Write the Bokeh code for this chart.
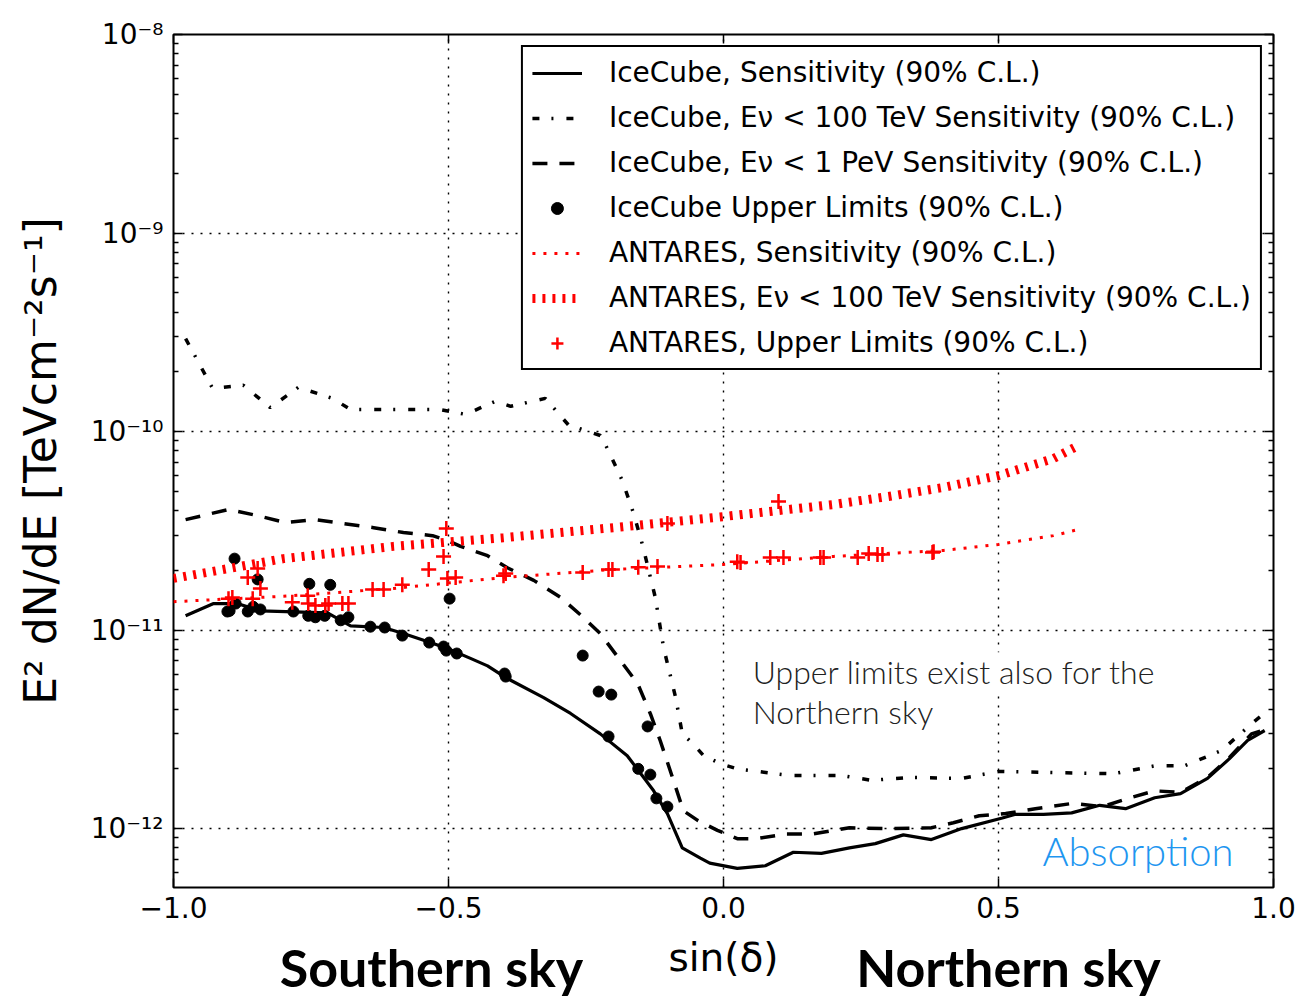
from bokeh.plotting import figure
from bokeh.layouts import column
from bokeh.models import FixedTicker, LinearAxis, LogAxis, Label, Legend, LegendItem, Range1d
from bokeh.embed import file_html
from bokeh.resources import INLINE

# ---------------- data ----------------
ic_sens_x = [-0.978, -0.927, -0.884, -0.842, -0.720, -0.678, -0.618, -0.582, -0.533, -0.502,
             -0.460, -0.429, -0.393, -0.327, -0.278, -0.224, -0.175, -0.127, -0.102, -0.075,
             -0.042, -0.025, 0.025, 0.076, 0.127, 0.178, 0.229, 0.276, 0.327, 0.378,
             0.433, 0.507, 0.531, 0.582, 0.633, 0.684, 0.731, 0.784, 0.831, 0.880,
             0.920, 0.953, 0.984]
ic_sens_y = [1.18e-11, 1.36e-11, 1.36e-11, 1.25e-11, 1.22e-11, 1.05e-11, 1.03e-11, 9.6e-12, 8.65e-12, 8.07e-12,
             7.2e-12, 6.6e-12, 5.7e-12, 4.57e-12, 3.8e-12, 3.0e-12, 2.33e-12, 1.55e-12, 1.19e-12, 8.0e-13,
             7.1e-13, 6.7e-13, 6.3e-13, 6.5e-13, 7.6e-13, 7.5e-13, 8.0e-13, 8.4e-13, 9.3e-13, 8.8e-13,
             1.0e-12, 1.13e-12, 1.18e-12, 1.18e-12, 1.2e-12, 1.31e-12, 1.26e-12, 1.43e-12, 1.5e-12, 1.79e-12,
             2.25e-12, 2.78e-12, 3.12e-12]

ic_100tev_x = [-0.978, -0.929, -0.873, -0.824, -0.773, -0.711, -0.678, -0.515, -0.469, -0.415,
               -0.387, -0.324, -0.282, -0.224, -0.211, -0.184, -0.164, -0.147, -0.124, -0.109,
               -0.087, -0.075, -0.056, -0.036, -0.005, 0.025, 0.120, 0.216, 0.269, 0.338,
               0.433, 0.500, 0.709, 0.784, 0.838, 0.905, 0.967, 0.985]
ic_100tev_y = [2.94e-10, 1.65e-10, 1.71e-10, 1.32e-10, 1.67e-10, 1.47e-10, 1.29e-10, 1.29e-10, 1.22e-10, 1.42e-10,
               1.34e-10, 1.47e-10, 1.08e-10, 9.55e-11, 8.2e-11, 5.66e-11, 3.91e-11, 2.67e-11, 1.46e-11, 8.17e-12,
               4.57e-12, 3.01e-12, 2.68e-12, 2.33e-12, 2.12e-12, 2.0e-12, 1.85e-12, 1.85e-12, 1.75e-12, 1.81e-12,
               1.79e-12, 1.94e-12, 1.89e-12, 2.07e-12, 2.07e-12, 2.47e-12, 3.5e-12, 3.84e-12]

ic_1pev_x = [-0.978, -0.900, -0.847, -0.796, -0.742, -0.691, -0.636, -0.582, -0.529, -0.502,
             -0.478, -0.429, -0.393, -0.345, -0.296, -0.255, -0.224, -0.187, -0.156, -0.133,
             -0.115, -0.091, -0.073, -0.047, -0.011, 0.025, 0.060, 0.115, 0.162, 0.229,
             0.296, 0.378, 0.418, 0.465, 0.513, 0.567, 0.635, 0.689, 0.736, 0.784,
             0.831, 0.880, 0.920, 0.960, 0.980]
ic_1pev_y = [3.6e-11, 4.05e-11, 3.77e-11, 3.48e-11, 3.6e-11, 3.44e-11, 3.28e-11, 3.1e-11, 2.99e-11, 2.83e-11,
             2.64e-11, 2.37e-11, 2.06e-11, 1.78e-11, 1.46e-11, 1.16e-11, 9.6e-12, 7.0e-12, 5.37e-12, 3.79e-12,
             2.77e-12, 1.75e-12, 1.23e-12, 1.1e-12, 9.8e-13, 8.9e-13, 8.9e-13, 9.4e-13, 9.4e-13, 1.01e-12,
             1.0e-12, 1.01e-12, 1.07e-12, 1.16e-12, 1.19e-12, 1.26e-12, 1.34e-12, 1.29e-12, 1.42e-12, 1.55e-12,
             1.52e-12, 1.81e-12, 2.28e-12, 3.0e-12, 3.12e-12]

ic_ul_x = [-0.902, -0.898, -0.889, -0.887, -0.865, -0.855, -0.847, -0.842, -0.782, -0.755,
           -0.753, -0.742, -0.725, -0.715, -0.696, -0.682, -0.642, -0.616, -0.584, -0.535,
           -0.509, -0.504, -0.498, -0.485, -0.398, -0.396, -0.256, -0.227, -0.209, -0.204,
           -0.155, -0.138, -0.133, -0.122, -0.102]
ic_ul_y = [1.24e-11, 1.25e-11, 2.29e-11, 1.36e-11, 1.24e-11, 1.31e-11, 1.80e-11, 1.27e-11, 1.24e-11, 1.18e-11,
           1.71e-11, 1.16e-11, 1.18e-11, 1.69e-11, 1.12e-11, 1.16e-11, 1.04e-11, 1.03e-11, 9.38e-12, 8.65e-12,
           8.26e-12, 7.88e-12, 1.44e-11, 7.62e-12, 6.04e-12, 5.83e-12, 7.44e-12, 4.90e-12, 2.91e-12, 4.73e-12,
           2.0e-12, 3.27e-12, 1.87e-12, 1.42e-12, 1.29e-12]

ant_sens_x = [-1.0, -0.8, -0.6, -0.4, -0.2, 0.0, 0.2, 0.4, 0.5, 0.6, 0.645]
ant_sens_y = [1.39e-11, 1.48e-11, 1.62e-11, 1.84e-11, 2.02e-11, 2.14e-11, 2.35e-11, 2.52e-11, 2.70e-11, 2.99e-11, 3.21e-11]

ant_100tev_x = [-1.0, -0.8, -0.6, -0.4, -0.2, 0.0, 0.2, 0.3, 0.4, 0.5, 0.6, 0.645]
ant_100tev_y = [1.82e-11, 2.29e-11, 2.64e-11, 2.92e-11, 3.28e-11, 3.73e-11, 4.29e-11, 4.71e-11, 5.23e-11, 6.0e-11, 7.31e-11, 8.5e-11]

ant_ul_x = [-0.900, -0.893, -0.865, -0.856, -0.847, -0.842, -0.784, -0.756, -0.755, -0.742,
            -0.724, -0.718, -0.693, -0.682, -0.638, -0.618, -0.584, -0.536, -0.509, -0.504,
            -0.502, -0.487, -0.400, -0.396, -0.256, -0.209, -0.202, -0.155, -0.120, -0.102,
            0.025, 0.031, 0.100, 0.085, 0.109, 0.176, 0.182, 0.244, 0.264, 0.280,
            0.289, 0.380, 0.382]
ant_ul_y = [1.44e-11, 1.46e-11, 1.84e-11, 1.44e-11, 2.04e-11, 1.62e-11, 1.38e-11, 1.49e-11, 1.36e-11, 1.33e-11,
            1.33e-11, 1.36e-11, 1.36e-11, 1.36e-11, 1.60e-11, 1.60e-11, 1.69e-11, 2.02e-11, 2.35e-11, 3.25e-11,
            1.82e-11, 1.84e-11, 1.88e-11, 1.93e-11, 1.95e-11, 2.02e-11, 2.02e-11, 2.07e-11, 2.09e-11, 3.44e-11,
            2.21e-11, 2.19e-11, 4.44e-11, 2.32e-11, 2.32e-11, 2.32e-11, 2.32e-11, 2.32e-11, 2.43e-11, 2.40e-11,
            2.40e-11, 2.46e-11, 2.48e-11]

legend_labels = [
    "IceCube, Sensitivity (90% C.L.)",
    "IceCube, Eν < 100 TeV Sensitivity (90% C.L.)",
    "IceCube, Eν < 1 PeV Sensitivity (90% C.L.)",
    "IceCube Upper Limits (90% C.L.)",
    "ANTARES, Sensitivity (90% C.L.)",
    "ANTARES, Eν < 100 TeV Sensitivity (90% C.L.)",
    "ANTARES, Upper Limits (90% C.L.)",
]

x_ticks = [-1.0, -0.5, 0.0, 0.5, 1.0]
x_tick_labels = ["−1.0", "−0.5", "0.0", "0.5", "1.0"]
y_ticks = [1e-12, 1e-11, 1e-10, 1e-9, 1e-8]
y_tick_labels = ["10⁻¹²", "10⁻¹¹", "10⁻¹⁰", "10⁻⁹", "10⁻⁸"]
y_minor_ticks = [m * 10.0 ** e for e in range(-13, -8) for m in range(2, 10)]

FONT = "DejaVu Sans"
LIGHT = "'Lato Light', Lato"

# ---------------- main figure ----------------
p = figure(width=1304, height=932, x_range=Range1d(-1.0, 1.0), y_range=Range1d(5.05e-13, 1e-8),
           y_axis_type="log", output_backend="svg", toolbar_location=None,
           min_border_left=173, min_border_right=31, min_border_top=34, min_border_bottom=45)
p.background_fill_color = "white"
p.border_fill_color = "white"
p.outline_line_color = "black"
p.outline_line_width = 2


def style_axis(ax):
    ax.axis_line_color = None
    ax.major_tick_in = 9
    ax.major_tick_out = 0
    ax.minor_tick_in = 5
    ax.minor_tick_out = 0
    ax.major_tick_line_width = 1.5
    ax.minor_tick_line_width = 1.5
    ax.major_tick_line_color = "black"
    ax.minor_tick_line_color = "black"
    ax.major_label_text_font = FONT
    ax.major_label_text_font_size = "28px"
    ax.major_label_text_color = "black"
    ax.axis_label_text_font = FONT
    ax.axis_label_text_font_style = "normal"
    ax.axis_label_text_color = "black"


xax = p.xaxis[0]
xax.ticker = FixedTicker(ticks=x_ticks)
xax.major_label_overrides = dict(zip(x_ticks, x_tick_labels))
style_axis(xax)
xax.minor_tick_line_color = None
xax.major_label_standoff = 9

yax = p.yaxis[0]
yax.ticker = FixedTicker(ticks=y_ticks, minor_ticks=y_minor_ticks)
yax.major_label_overrides = dict(zip(y_ticks, y_tick_labels))
style_axis(yax)
yax.major_label_standoff = 10
yax.axis_label = "E² dN/dE [TeVcm⁻²s⁻¹]"
yax.axis_label_text_font_size = "44px"
yax.axis_label_standoff = 22

top_ax = LinearAxis(ticker=FixedTicker(ticks=x_ticks),
                    major_label_overrides={t: "" for t in x_ticks})
style_axis(top_ax)
top_ax.minor_tick_line_color = None
top_ax.major_label_text_font_size = "0px"
p.add_layout(top_ax, "above")

right_ax = LogAxis(ticker=FixedTicker(ticks=y_ticks, minor_ticks=y_minor_ticks),
                   major_label_overrides={t: "" for t in y_ticks})
style_axis(right_ax)
right_ax.major_label_text_font_size = "0px"
p.add_layout(right_ax, "right")

for g in (p.xgrid[0], p.ygrid[0]):
    g.grid_line_color = "black"
    g.grid_line_width = 1.4
    g.grid_line_dash = "2 7"

# ---------------- glyphs ----------------
r1 = p.line(ic_sens_x, ic_sens_y, line_color="black", line_width=3.2)
r2 = p.line(ic_100tev_x, ic_100tev_y, line_color="black", line_width=3.5, line_dash="7 12 2 13")
r3 = p.line(ic_1pev_x, ic_1pev_y, line_color="black", line_width=3.5, line_dash="15 12")
r4 = p.scatter(ic_ul_x, ic_ul_y, marker="circle", size=11, fill_color="black", line_color="black")
r5 = p.line(ant_sens_x, ant_sens_y, line_color="red", line_width=3, line_dash="3 8")
r6 = p.line(ant_100tev_x, ant_100tev_y, line_color="red", line_width=9, line_dash="3 7")
r7 = p.scatter(ant_ul_x, ant_ul_y, marker="cross", size=15, line_color="red", line_width=2.5)

legend = Legend(items=[LegendItem(label=lab, renderers=[r])
                       for lab, r in zip(legend_labels, [r1, r2, r3, r4, r5, r6, r7])],
                location="top_right", margin=11, padding=9, spacing=12,
                glyph_width=50, glyph_height=30, label_height=30, label_standoff=27,
                label_text_font=FONT, label_text_font_size="28px", label_text_color="black",
                border_line_color="black", border_line_width=2, border_line_alpha=1.0,
                background_fill_color="white", background_fill_alpha=1.0)
p.add_layout(legend)

# ---------------- annotations inside the frame ----------------
p.add_layout(Label(x=0.053, y=6.16e-12, text="Upper limits exist also for the",
                   text_align="left", text_baseline="alphabetic",
                   text_font=LIGHT, text_font_size="32px", text_color="#222222",
                   background_fill_color="white"))
p.add_layout(Label(x=0.053, y=3.89e-12, text="Northern sky",
                   text_align="left", text_baseline="alphabetic",
                   text_font=LIGHT, text_font_size="32px", text_color="#222222"))
p.add_layout(Label(x=0.58, y=7.7e-13, text="Absorption",
                   text_align="left", text_baseline="alphabetic",
                   text_font=LIGHT, text_font_size="40px", text_color="#1e96f0"))

# ---------------- strip below the axis: x label and sky names ----------------
strip_h = 64
q = figure(width=1304, height=strip_h, x_range=Range1d(-1.0, 1.0), y_range=Range1d(0, strip_h),
           output_backend="svg", toolbar_location=None,
           min_border_left=173, min_border_right=31, min_border_top=0, min_border_bottom=0)
q.axis.visible = False
q.grid.visible = False
q.outline_line_color = None
q.background_fill_color = "white"
q.border_fill_color = "white"

q.add_layout(Label(x=0.0, y=39, text="sin(δ)", text_align="center", text_baseline="middle",
                   text_font=FONT, text_font_size="39px", text_color="black"))
for txt, xpos in (("Southern sky", -0.531), ("Northern sky", 0.518)):
    q.add_layout(Label(x=xpos, y=30, text=txt, text_align="center", text_baseline="middle",
                       text_font="Lato", text_font_style="bold", text_font_size="52px",
                       text_color="black"))

layout = column(p, q, spacing=0)
open("out.html", "w").write(file_html(layout, INLINE))
